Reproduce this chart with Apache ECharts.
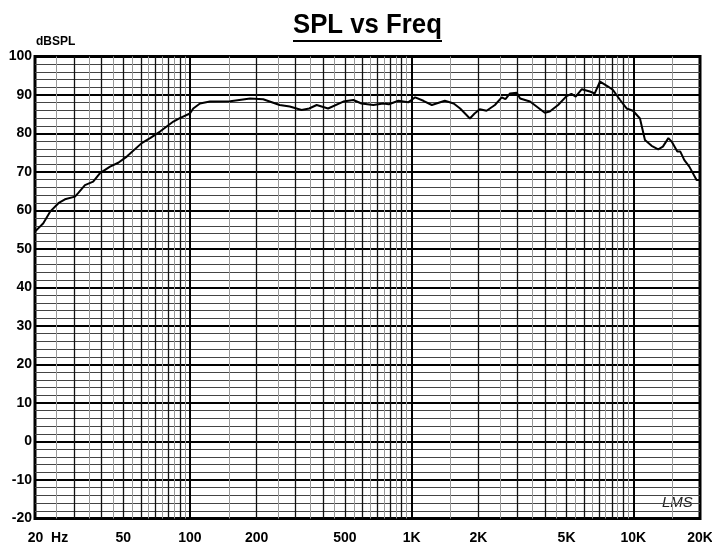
<!DOCTYPE html>
<html>
<head>
<meta charset="utf-8">
<script src="https://cdn.jsdelivr.net/npm/echarts@6/dist/echarts.min.js"></script>
<style>
  html, body { margin: 0; padding: 0; background: #fff; }
  #chart { width: 712px; height: 544px; }
</style>
</head>
<body>
<div id="chart"></div>
<script>
// SPL vs Freq
var freqs = [20, 21.8, 23.4, 25.5, 27.3, 30.3, 31.3, 33.6, 36.6, 39.3, 43.6, 47.5, 51.9, 60.6, 66.1, 73.3,
  84.2, 90, 100, 103.5, 111, 123, 152, 187, 214, 254, 282, 319, 345, 373, 420, 492, 546, 594, 672, 745,
  790, 872, 965, 1038, 1130, 1234, 1412, 1548, 1656, 1832, 1924, 2030, 2178, 2376, 2550, 2650, 2780, 2980,
  3087, 3420, 3990, 4200, 4580, 5000, 5260, 5500, 5860, 6370, 6700, 7080, 7700, 8100, 8720, 9330, 9970,
  10720, 11290, 12100, 12960, 13600, 14400, 14900, 15800, 16300, 17000, 17900, 19300, 20000];
var spl = [54.5, 56.7, 59.7, 61.9, 62.9, 63.6, 64.5, 66.6, 67.5, 69.7, 71.4, 72.4, 74.0, 77.5, 78.8, 80.5,
  83.1, 84.0, 85.2, 86.5, 87.8, 88.3, 88.4, 89.1, 88.9, 87.4, 87.0, 86.1, 86.5, 87.4, 86.5, 88.3, 88.7, 87.8, 87.4, 87.8,
  87.6, 88.5, 88.1, 89.4, 88.5, 87.4, 88.5, 87.8, 86.5, 83.9, 85.2, 86.3, 85.9, 87.4, 89.4, 88.9, 90.4, 90.6,
  89.1, 88.3, 85.4, 85.7, 87.4, 89.7, 90.3, 89.6, 91.5, 90.9, 90.4, 93.5, 92.2, 91.3, 88.7, 86.5, 85.9,
  83.9, 78.3, 76.8, 75.9, 76.6, 78.8, 77.9, 75.3, 75.3, 73.1, 71.4, 67.9, 67.9];

var xTicks = [20, 50, 100, 200, 500, 1000, 2000, 5000, 10000, 20000];
var xTickLabels = ['20  Hz', '50', '100', '200', '500', '1K', '2K', '5K', '10K', '20K'];

var fam = "'Liberation Sans', Arial, sans-serif";
var lblFont = { color: '#000', fontFamily: fam, fontWeight: 'bold', fontSize: 14 };

function tickLabel(k) {
  var l = { show: true, position: 'start', distance: 13 };
  if (k === 0) {
    // "20 Hz" starts just left of the frame
    l.formatter = '{p|' + xTickLabels[k] + '}';
    l.rich = { p: Object.assign({ padding: [0, 0, 0, 26] }, lblFont) };
  } else {
    l.formatter = xTickLabels[k];
    Object.assign(l, lblFont);
  }
  return l;
}

// vertical grid: integer multiples dark, half multiples grey, decades thick
var gridLines = [];
[10, 100, 1000, 10000].forEach(function (d) {
  for (var m = 1; m < 10; m += 0.5) {
    var f = m * d;
    if (f <= 20 || f >= 20000) continue;
    var ls;
    if (m === 1) ls = { color: '#000', width: 2, type: 'solid' };
    else if (m % 1 === 0) ls = { color: '#111', width: 1.3, type: 'solid' };
    else ls = { color: '#999', width: 1, type: 'solid' };
    var k = xTicks.indexOf(f);
    gridLines.push({ xAxis: f, lineStyle: ls, label: k >= 0 ? tickLabel(k) : { show: false } });
  }
});
// labels on the frame edges
[0, xTicks.length - 1].forEach(function (k) {
  gridLines.push({ xAxis: xTicks[k], lineStyle: { color: '#000', width: 0.01, type: 'solid' }, label: tickLabel(k) });
});

var myChart = echarts.init(document.getElementById('chart'));
var option = {
  animation: false,
  backgroundColor: '#fff',
  graphic: [
    { type: 'text', x: 293, y: 11, scaleX: 0.92, style: { text: 'SPL vs Freq', font: 'bold 28px ' + fam, fill: '#000' } },
    { type: 'rect', x: 293, y: 40, shape: { width: 149, height: 2 }, style: { fill: '#000' } },
    { type: 'text', x: 36, y: 36, style: { text: 'dBSPL', font: 'bold 12px ' + fam, fill: '#000' } },
    { type: 'text', x: 662, y: 495, style: { text: 'LMS', font: 'italic 15px ' + fam, fill: '#222' } }
  ],
  grid: {
    left: 35, right: 12, top: 56.5, bottom: 25.5,
    show: true, borderColor: '#000', borderWidth: 3, backgroundColor: 'transparent',
    outerBoundsMode: 'none'
  },
  xAxis: {
    type: 'log', logBase: 10, min: 20, max: 20000,
    axisLine: { show: false }, axisTick: { show: false }, axisLabel: { show: false },
    splitLine: { show: false }
  },
  yAxis: {
    type: 'value', min: -20, max: 100, interval: 10,
    axisLine: { show: false }, axisTick: { show: false },
    axisLabel: Object.assign({ margin: 3 }, lblFont),
    splitLine: { show: true, lineStyle: { color: '#000', width: 2 } },
    minorTick: { show: false, splitNumber: 5 },
    minorSplitLine: { show: true, lineStyle: { color: '#444', width: 1 } }
  },
  series: [
    {
      type: 'line', data: [], z: 1, silent: true,
      markLine: { silent: true, symbol: ['none', 'none'], animation: false, lineStyle: { type: 'solid' }, data: gridLines }
    },
    {
      name: 'SPL', type: 'line', z: 5,
      data: freqs.map(function (f, i) { return [f, spl[i]]; }),
      showSymbol: false, symbol: 'none', smooth: false,
      lineStyle: { color: '#000', width: 2 }
    }
  ]
};
myChart.setOption(option);
</script>
</body>
</html>
